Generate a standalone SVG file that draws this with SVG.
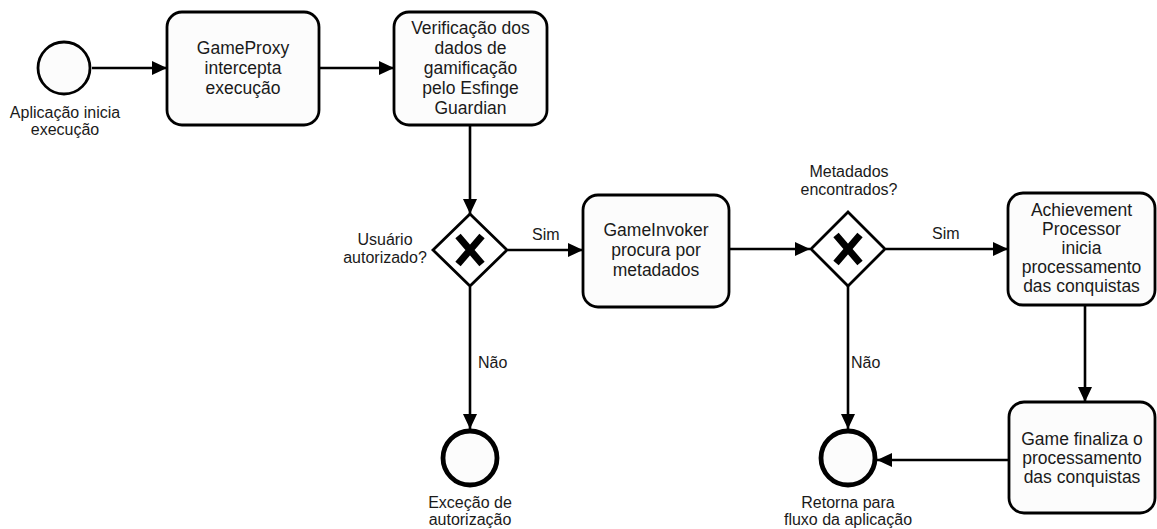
<svg xmlns="http://www.w3.org/2000/svg" width="1157" height="529" viewBox="0 0 1157 529">
<style>
.task{fill:#fcfcfc;stroke:#000;stroke-width:2.8}
.gw{fill:#fff;stroke:#000;stroke-width:2.8}
.gx{stroke:#000;stroke-width:7;stroke-linecap:butt}
.start{fill:#fcfcfc;stroke:#000;stroke-width:2.8}
.end{fill:#fcfcfc;stroke:#000;stroke-width:4.8}
.edge{fill:none;stroke:#000;stroke-width:2.6}
.t{font-family:"Liberation Sans",Arial,sans-serif;font-size:17.5px;fill:#1a1a1a;text-anchor:middle}
.l{font-family:"Liberation Sans",Arial,sans-serif;font-size:16px;fill:#1a1a1a;text-anchor:middle}
.ls{font-family:"Liberation Sans",Arial,sans-serif;font-size:16px;fill:#1a1a1a}
</style>
<defs>
<marker id="arr" markerUnits="userSpaceOnUse" markerWidth="16" markerHeight="14" refX="15" refY="7" orient="auto">
<path d="M0,0 L15,7 L0,14 z" fill="#000"/>
</marker>
</defs>
<g id="connectors">
<line class="edge" x1="92" y1="68" x2="167" y2="68" marker-end="url(#arr)"/>
<line class="edge" x1="319" y1="68" x2="394" y2="68" marker-end="url(#arr)"/>
<line class="edge" x1="470" y1="125" x2="470" y2="214" marker-end="url(#arr)"/>
<line class="edge" x1="508" y1="250" x2="583" y2="250" marker-end="url(#arr)"/>
<line class="edge" x1="470" y1="287" x2="470" y2="429" marker-end="url(#arr)"/>
<line class="edge" x1="729" y1="249" x2="810" y2="249" marker-end="url(#arr)"/>
<line class="edge" x1="886" y1="249" x2="1008" y2="249" marker-end="url(#arr)"/>
<line class="edge" x1="848" y1="286" x2="848" y2="429" marker-end="url(#arr)"/>
<line class="edge" x1="1085" y1="305" x2="1085" y2="402" marker-end="url(#arr)"/>
<line class="edge" x1="1009" y1="460" x2="877" y2="460" marker-end="url(#arr)"/>
<text class="ls" x="532" y="240">Sim</text>
<text class="ls" x="932" y="239">Sim</text>
<text class="ls" x="478" y="368">Não</text>
<text class="ls" x="851" y="368">Não</text>
</g>
<g id="start">
<circle class="start" cx="64" cy="68" r="26"/>
<text class="l" x="65" y="118">Aplicação inicia</text>
<text class="l" x="65" y="135">execução</text>
</g>
<g id="task1">
<rect class="task" x="167" y="12" width="152" height="113" rx="15"/>
<text class="t" x="243" y="54">GameProxy</text>
<text class="t" x="243" y="74">intercepta</text>
<text class="t" x="243" y="94">execução</text>
</g>
<g id="task2">
<rect class="task" x="394" y="12" width="153" height="113" rx="15"/>
<text class="t" x="470.5" y="34">Verificação dos</text>
<text class="t" x="470.5" y="54">dados de</text>
<text class="t" x="470.5" y="74">gamificação</text>
<text class="t" x="470.5" y="94">pelo Esfinge</text>
<text class="t" x="470.5" y="114">Guardian</text>
</g>
<g id="gateway1">
<path class="gw" d="M470,214 L507,250 L470,286 L433,250 z"/>
<path class="gx" d="M458,236 L482,264 M482,236 L458,264"/>
<text class="l" x="385" y="245">Usuário</text>
<text class="l" x="385" y="263">autorizado?</text>
</g>
<g id="task3">
<rect class="task" x="583" y="195" width="146" height="112" rx="15"/>
<text class="t" x="656" y="236">GameInvoker</text>
<text class="t" x="656" y="256">procura por</text>
<text class="t" x="656" y="276">metadados</text>
</g>
<g id="gateway2">
<path class="gw" d="M848,212 L885,249 L848,286 L811,249 z"/>
<path class="gx" d="M836,235 L860,263 M860,235 L836,263"/>
<text class="l" x="849" y="177">Metadados</text>
<text class="l" x="849" y="195">encontrados?</text>
</g>
<g id="task4">
<rect class="task" x="1008" y="193" width="147" height="112" rx="15"/>
<text class="t" x="1081.5" y="216">Achievement</text>
<text class="t" x="1081.5" y="235">Processor</text>
<text class="t" x="1081.5" y="254">inicia</text>
<text class="t" x="1081.5" y="273">processamento</text>
<text class="t" x="1081.5" y="292">das conquistas</text>
</g>
<g id="task5">
<rect class="task" x="1009" y="402" width="146" height="111" rx="15"/>
<text class="t" x="1082" y="445">Game finaliza o</text>
<text class="t" x="1082" y="464">processamento</text>
<text class="t" x="1082" y="483">das conquistas</text>
</g>
<g id="end1">
<circle class="end" cx="470" cy="458" r="27"/>
<text class="l" x="470" y="508">Exceção de</text>
<text class="l" x="470" y="525">autorização</text>
</g>
<g id="end2">
<circle class="end" cx="848" cy="458" r="27"/>
<text class="l" x="848" y="508">Retorna para</text>
<text class="l" x="848" y="525">fluxo da aplicação</text>
</g>
</svg>
